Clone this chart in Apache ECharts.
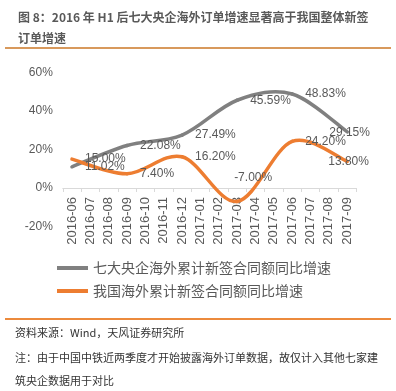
<!DOCTYPE html>
<html><head><meta charset="utf-8">
<script src="https://cdn.jsdelivr.net/npm/echarts@6/dist/echarts.min.js"></script>
<style>html,body{margin:0;padding:0;background:#fff}#c{width:396px;height:391px}</style>
</head><body><div id="c"></div>
<script>
var categories = ['2016-06','2016-07','2016-08','2016-09','2016-10','2016-11','2016-12','2017-01','2017-02','2017-03','2017-04','2017-05','2017-06','2017-07','2017-08','2017-09'];
var quarterMonths = ['2016-06','2016-09','2016-12','2017-03','2017-06','2017-09'];
var centralSOE = [11.02, 22.08, 27.49, 45.59, 48.83, 29.15];
var national   = [15.00, 7.40, 16.20, -7.00, 24.20, 13.80];
var seriesNames = ['七大央企海外累计新签合同额同比增速','我国海外累计新签合同额同比增速'];
var yTicks = {min:-20, max:60, interval:20};

var colors = ['#808080', '#ed7d31'];
var labelOffsets = [ {5: [-31, 1]}, {3: [-16, -24], 5: [-32, 0]} ];

function pairs(vals){
  return vals.map(function(v,i){ return [categories.indexOf(quarterMonths[i]), v]; });
}

function makeRender(vals, si){
  return function(params, api){
    var children = [];
    if (params.dataIndex === 0) {
      var pts = pairs(vals).map(function(p){ return api.coord(p); });
      var n = pts.length;
      for (var i = 0; i < n - 1; i++) {
        var p0 = pts[Math.max(i-1,0)], p1 = pts[i], p2 = pts[i+1], p3 = pts[Math.min(i+2,n-1)];
        children.push({type:'bezierCurve', silent:true,
          shape:{x1:p1[0], y1:p1[1], x2:p2[0], y2:p2[1],
            cpx1:p1[0]+(p2[0]-p0[0])/6, cpy1:p1[1]+(p2[1]-p0[1])/6,
            cpx2:p2[0]-(p3[0]-p1[0])/6, cpy2:p2[1]-(p3[1]-p1[1])/6},
          style:{stroke:colors[si], lineWidth:3.5, fill:null, lineCap:'round'}});
      }
    }
    var c = api.coord([api.value(0), api.value(1)]);
    var off = labelOffsets[si][params.dataIndex] || [0,0];
    children.push({type:'text', silent:true, z2:10,
      style:{text: api.value(1).toFixed(2) + '%', x: c[0] + 13 + off[0], y: c[1] + off[1],
        verticalAlign:'middle', align:'left', fill:'#595959',
        font:'12px "Liberation Sans", Arial, sans-serif'}});
    return {type:'group', children:children};
  };
}

var chart = echarts.init(document.getElementById('c'), null, {renderer:'canvas'});
chart.setOption({
  animation:false,
  color:colors,
  title:{text:'图 8：2016 年 H1 后七大央企海外订单增速显著高于我国整体新签\n订单增速', left:13, top:2,
    textStyle:{fontSize:12, fontWeight:'bold', color:'#595959', lineHeight:21,
      fontFamily:'"Noto Sans CJK SC", sans-serif'}},
  grid:{left:62.8, right:39.6, top:72.5, bottom:164.5, containLabel:false},
  legend:{orient:'vertical', left:52, top:256, itemWidth:31, itemHeight:4, itemGap:9, itemTextGap:4,
    icon:'rect', data:seriesNames,
    textStyle:{fontSize:14, color:'#595959', fontFamily:'"Noto Sans CJK SC", sans-serif'}},
  xAxis:{type:'category', data:categories, boundaryGap:true, position:'bottom', offset:-38.5,
    axisLine:{onZero:false, lineStyle:{color:'#d9d9d9', width:1}},
    axisTick:{show:true, length:4, lineStyle:{color:'#d9d9d9'}},
    axisLabel:{rotate:90, interval:0, margin:9, color:'#595959', fontSize:13,
      fontFamily:'Liberation Sans, Arial, sans-serif'}},
  yAxis:{type:'value', min:yTicks.min, max:yTicks.max, interval:yTicks.interval,
    axisLine:{show:false}, axisTick:{show:false}, splitLine:{show:false},
    axisLabel:{formatter:'{value}%', margin:10, color:'#595959', fontSize:12,
      fontFamily:'Liberation Sans, Arial, sans-serif'}},
  series:[
    {name:seriesNames[0], type:'custom', data:pairs(centralSOE), renderItem:makeRender(centralSOE,0),
     itemStyle:{color:colors[0]}, clip:false},
    {name:seriesNames[1], type:'custom', data:pairs(national), renderItem:makeRender(national,1),
     itemStyle:{color:colors[1]}, clip:false}
  ],
  graphic:[
    {type:'line', shape:{x1:5, y1:48, x2:391, y2:48}, style:{stroke:'#d8995c', lineWidth:2}},
    {type:'line', shape:{x1:5, y1:319, x2:391, y2:319}, style:{stroke:'#ec8a3c', lineWidth:2}},
    {type:'text', left:15, top:327, style:{text:'资料来源：Wind，天风证券研究所', fill:'#333',
      font:'11px "Noto Sans CJK SC", sans-serif'}},
    {type:'text', left:15, top:352, style:{text:'注：由于中国中铁近两季度才开始披露海外订单数据，故仅计入其他七家建', fill:'#333',
      font:'11px "Noto Sans CJK SC", sans-serif'}},
    {type:'text', left:15, top:375, style:{text:'筑央企数据用于对比', fill:'#333',
      font:'11px "Noto Sans CJK SC", sans-serif'}}
  ]
});
</script></body></html>
